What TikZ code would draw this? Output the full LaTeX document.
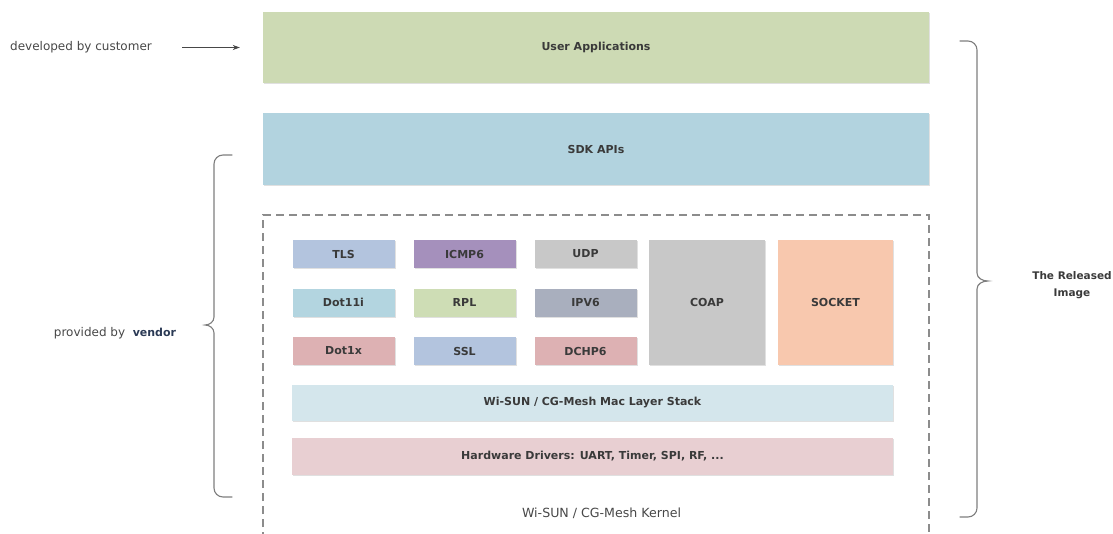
\documentclass[tikz,border=0pt]{standalone}
\usepackage{fontspec}
\setmainfont{DejaVu Sans}
\usetikzlibrary{arrows.meta,shadows}

\definecolor{txt}{HTML}{3A3A3A}
\definecolor{soft}{HTML}{474747}
\definecolor{linegray}{HTML}{8C8C8C}
\definecolor{cUser}{HTML}{CDDAB4}
\definecolor{cSdk}{HTML}{B2D3DF}
\definecolor{cTls}{HTML}{B3C4DE}
\definecolor{cIcmp}{HTML}{A590BC}
\definecolor{cGrey}{HTML}{C8C8C8}
\definecolor{cDot}{HTML}{B3D5E0}
\definecolor{cRpl}{HTML}{CEDDB5}
\definecolor{cIpv}{HTML}{A9AFBE}
\definecolor{cRose}{HTML}{DDB1B3}
\definecolor{cSock}{HTML}{F8C8AE}
\definecolor{cMac}{HTML}{D4E6EC}
\definecolor{cHw}{HTML}{E8CFD2}
\definecolor{cVendor}{HTML}{2B3A55}

\tikzset{
  layer/.style={rectangle, inner sep=0pt, text=txt,
    font=\fontsize{11}{13}\selectfont\bfseries,
    drop shadow={shadow xshift=1.2pt, shadow yshift=-1.2pt, fill=black, opacity=0.12}},
  module/.style={layer, minimum width=102pt, minimum height=28pt},
  plain/.style={inner sep=0pt, text=soft, font=\fontsize{12}{14}\selectfont},
  brace/.style={draw=linegray!90!black, line width=1.1pt, line cap=round},
  arr/.style={draw=soft, line width=0.8pt, -{Stealth[length=7pt,width=5pt]}},
}

\begin{document}
\begin{tikzpicture}[x=1pt,y=-1pt]
\useasboundingbox (0,0) rectangle (1113,533);

% top layers
\node[layer, fill=cUser, minimum width=666pt, minimum height=71pt] (user) at (596,47.5) {User Applications};
\node[layer, fill=cSdk, minimum width=666pt, minimum height=72pt] (sdk) at (596,149) {SDK APIs};

% kernel frame, open at the bottom edge
\draw[linegray, line width=1.1pt, dash pattern=on 8pt off 5pt]
  (263,540) -- (263,215) -- (929,215) -- (929,540);

% protocol modules
\node[module, fill=cTls]  (tls)   at (343.5,254)   {TLS};
\node[module, fill=cIcmp] (icmp)  at (464.5,254)   {ICMP6};
\node[module, fill=cGrey] (udp)   at (585.5,254)   {UDP};
\node[module, fill=cDot]  (dot11) at (343.5,302.5) {Dot11i};
\node[module, fill=cRpl]  (rpl)   at (464.5,302.5) {RPL};
\node[module, fill=cIpv]  (ipv6)  at (585.5,302.5) {IPV6};
\node[module, fill=cRose] (dot1x) at (343.5,351)   {Dot1x};
\node[module, fill=cTls]  (ssl)   at (464.5,351)   {SSL};
\node[module, fill=cRose] (dchp)  at (585.5,351)   {DCHP6};

\node[layer, fill=cGrey, minimum width=116pt, minimum height=125pt] (coap)   at (707,302.5)   {COAP};
\node[layer, fill=cSock, minimum width=115pt, minimum height=125pt] (socket) at (835.5,302.5) {SOCKET};

\node[layer, fill=cMac, minimum width=601pt, minimum height=36pt] (mac) at (592.5,403)
  {Wi-SUN / CG-Mesh Mac Layer Stack};
\node[layer, fill=cHw, minimum width=601pt, minimum height=37pt] (hw) at (592.5,456.5)
  {Hardware Drivers: UART, Timer, SPI, RF, ...};

\node[plain, font=\fontsize{12.6}{15}\selectfont] (kernel) at (601.5,513) {Wi-SUN / CG-Mesh Kernel};

% side annotations
\node[plain, anchor=west] (dev) at (10,47.5) {developed by customer};
\draw[arr, shorten <=30pt, shorten >=23pt] (dev.east) -- (user.west);

\node[plain] (vendor) at (115,333) {provided by\ \ {\color{cVendor}\fontsize{11}{13}\selectfont\bfseries vendor}};
\draw[brace] (232,155) -- (223,155) to[out=180,in=90] (214,164) -- (214,317)
  to[out=-90,in=0] (205,325) to[out=0,in=90] (214,333) -- (214,488)
  to[out=-90,in=180] (223,497) -- (232,497);

\node[plain, text=txt, align=center, font=\fontsize{10.5}{16.5}\selectfont\bfseries] (released) at (1072,285)
  {The Released\\Image};
\draw[brace] (960,41) -- (968,41) to[out=0,in=90] (977,50) -- (977,273)
  to[out=-90,in=180] (988,281) to[out=180,in=90] (977,289) -- (977,508)
  to[out=-90,in=0] (968,517) -- (960,517);
\end{tikzpicture}
\end{document}
